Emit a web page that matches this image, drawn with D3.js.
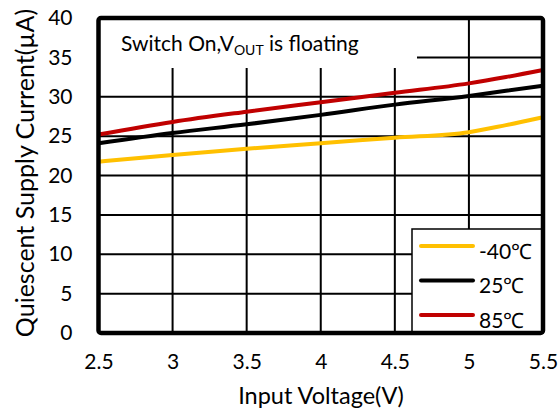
<!DOCTYPE html>
<html>
<head>
<meta charset="utf-8">
<script src="https://cdn.jsdelivr.net/npm/d3@7"></script>
<style>
  html, body { margin: 0; padding: 0; background: #fff; }
  svg { display: block; font-family: Lato, "Open Sans", sans-serif; }
</style>
</head>
<body>
<svg id="chart" width="558" height="408"></svg>
<script>
// Input voltage sample points (V)
const voltages = [2.5, 3, 3.5, 4, 4.5, 5, 5.25, 5.5];
// Quiescent supply current (µA) per temperature
const currentM40 = [21.75, 22.6, 23.4, 24.1, 24.8, 25.5, 26.4, 27.4];
const current25  = [24.1, 25.4, 26.5, 27.7, 29.0, 30.1, 30.75, 31.4];
const current85  = [25.2, 26.8, 28.1, 29.3, 30.5, 31.7, 32.5, 33.4];

const seriesNames  = ["-40℃", "25℃", "85℃"];
const seriesColors = ["#ffc000", "#000000", "#c00000"];
const seriesValues = [currentM40, current25, current85];

const xTicks = [2.5, 3, 3.5, 4, 4.5, 5, 5.5];
const yTicks = [0, 5, 10, 15, 20, 25, 30, 35, 40];

const svg = d3.select("#chart");
const plotL = 98.5, plotR = 543, plotT = 18, plotB = 333;

const x = d3.scaleLinear().domain([2.5, 5.5]).range([plotL, plotR]);
const y = d3.scaleLinear().domain([0, 40]).range([plotB, plotT]);

// grid
const grid = svg.append("g").attr("stroke", "#000").attr("stroke-width", 2);
grid.selectAll("line.v").data(xTicks.slice(1, -1)).join("line")
  .attr("class", "v")
  .attr("x1", d => x(d)).attr("x2", d => x(d))
  .attr("y1", plotT).attr("y2", plotB);
grid.selectAll("line.h").data(yTicks.slice(1, -1)).join("line")
  .attr("class", "h")
  .attr("x1", plotL).attr("x2", plotR)
  .attr("y1", d => y(d)).attr("y2", d => y(d));

// note panel at the top left
svg.append("rect")
  .attr("x", plotL).attr("y", plotT)
  .attr("width", 417 - plotL).attr("height", 68 - plotT)
  .attr("fill", "#fff");
const note = svg.append("text")
  .attr("x", 121).attr("y", 50.7)
  .attr("font-size", 21).attr("fill", "#000");
note.append("tspan").text("Switch On,V");
note.append("tspan").attr("font-size", 14).attr("dy", 4).text("OUT");
note.append("tspan").attr("dy", -4).text(" is floating");

// curves
const line = d3.line()
  .x((d, i) => x(voltages[i]))
  .y(d => y(d))
  .curve(d3.curveMonotoneX);
svg.append("g").selectAll("path").data(seriesValues).join("path")
  .attr("d", line)
  .attr("fill", "none")
  .attr("stroke", (d, i) => seriesColors[i])
  .attr("stroke-width", 4);

// legend
const lg = svg.append("g");
lg.append("rect")
  .attr("x", 412).attr("y", 229)
  .attr("width", plotR - 412).attr("height", plotB - 229)
  .attr("fill", "#fff").attr("stroke", "#000").attr("stroke-width", 1.5);
const items = lg.selectAll("g.item").data(seriesNames).join("g")
  .attr("class", "item")
  .attr("transform", (d, i) => `translate(0, ${246 + i * 34.5})`);
items.append("line")
  .attr("x1", 421).attr("x2", 473)
  .attr("stroke", (d, i) => seriesColors[i])
  .attr("stroke-width", 4).attr("stroke-linecap", "round");
items.append("text")
  .attr("x", 479).attr("y", 12.7)
  .attr("font-size", 21).text(d => d);

// plot frame
svg.append("rect")
  .attr("x", plotL).attr("y", plotT)
  .attr("width", plotR - plotL).attr("height", plotB - plotT)
  .attr("rx", 2.5)
  .attr("fill", "none").attr("stroke", "#000").attr("stroke-width", 4.5);

// axes labels
const xAxis = d3.axisBottom(x).tickValues(xTicks).tickSize(0).tickPadding(0)
  .tickFormat(d3.format(""));
svg.append("g").attr("transform", `translate(0, 368.5)`).call(xAxis)
  .call(g => g.select(".domain").remove())
  .call(g => g.selectAll("text").attr("font-size", 21).attr("font-family", "Lato, sans-serif").attr("fill", "#000").attr("dy", 0));

const yAxis = d3.axisLeft(y).tickValues(yTicks).tickSize(0).tickPadding(0);
svg.append("g").attr("transform", `translate(72.5, 0)`).call(yAxis)
  .call(g => g.select(".domain").remove())
  .call(g => g.selectAll("text").attr("font-size", 21).attr("font-family", "Lato, sans-serif").attr("fill", "#000"));

svg.append("text")
  .attr("x", 321).attr("y", 404.3)
  .attr("text-anchor", "middle").attr("font-size", 23.5)
  .text("Input Voltage(V)");
svg.append("text")
  .attr("transform", `translate(34, 173) rotate(-90)`)
  .attr("text-anchor", "middle").attr("font-size", 25)
  .text("Quiescent Supply Current(µA)");
</script>
</body>
</html>
